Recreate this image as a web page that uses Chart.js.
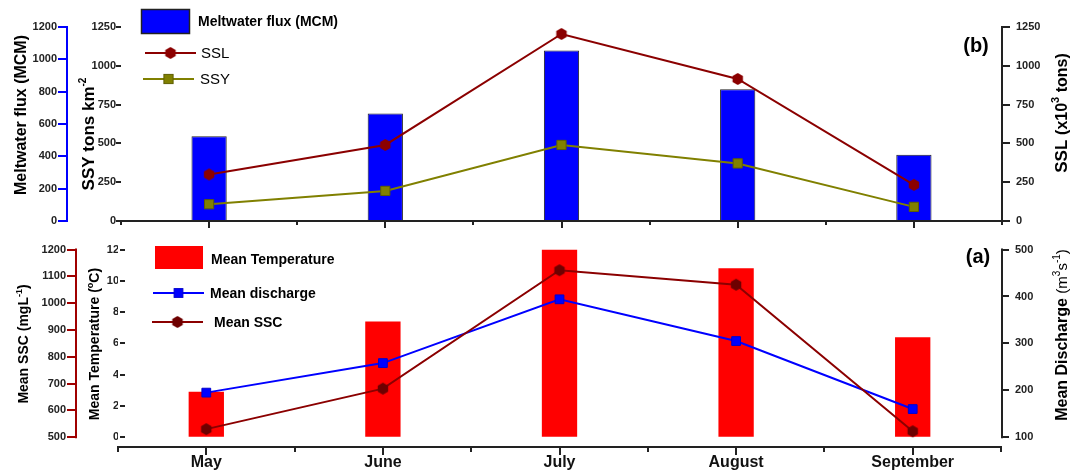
<!DOCTYPE html>
<html>
<head>
<meta charset="utf-8">
<script src="https://cdn.jsdelivr.net/npm/chart.js@4.4.1/dist/chart.umd.min.js"></script>
<style>
  html, body { margin: 0; padding: 0; background: #fff; }
  #wrap { width: 1072px; height: 474px; position: relative; overflow: hidden; }
  .panel { position: absolute; left: 0; width: 1072px; height: 237px; }
  canvas { display: block; }
</style>
</head>
<body>
<div id="wrap">
  <div class="panel" style="top:0"><canvas id="cTop" width="1072" height="237"></canvas></div>
  <div class="panel" style="top:237px"><canvas id="cBot" width="1072" height="237"></canvas></div>
</div>
<script>
// ---- data ----
const months = ['May', 'June', 'July', 'August', 'September'];

// panel (b)
const meltwaterFlux = [525, 665, 1055, 815, 410];   // MCM
const ssl = [300, 490, 1205, 915, 233];             // x10^3 tons
const ssy = [108, 194, 490, 371, 91];               // tons km^-2

// panel (a)
const meanTemperature = [2.9, 7.4, 12.0, 10.8, 6.4]; // deg C
const meanDischarge = [195, 258, 394, 305, 160];     // m^3 s^-1
const meanSSC = [530, 681, 1123, 1069, 522];         // mg L^-1

// axis ticks
const meltTicks = [0, 200, 400, 600, 800, 1000, 1200];
const ssyTicks = [0, 250, 500, 750, 1000, 1250];
const sslTicks = [0, 250, 500, 750, 1000, 1250];
const sscTicks = [500, 600, 700, 800, 900, 1000, 1100, 1200];
const tempTicks = [0, 2, 4, 6, 8, 10, 12];
const dischargeTicks = [100, 200, 300, 400, 500];

// ---- helpers ----
const FONT = 'Arial, "Liberation Sans", sans-serif';
const DARK_RED = '#8B0000';
const SSC_AXIS = '#A00000';
const OLIVE = '#808000';

function hexMarker(r, fill) {
  const s = Math.ceil(2 * r + 2);
  const c = document.createElement('canvas');
  c.width = s; c.height = s;
  const g = c.getContext('2d');
  g.beginPath();
  for (let i = 0; i < 6; i++) {
    const a = Math.PI / 2 + i * Math.PI / 3;
    const x = s / 2 + r * Math.cos(a), y = s / 2 + r * Math.sin(a);
    i ? g.lineTo(x, y) : g.moveTo(x, y);
  }
  g.closePath();
  g.fillStyle = fill;
  g.fill();
  return c;
}
const hexSSL = hexMarker(6, DARK_RED);
const hexSSC = hexMarker(6, '#6E0000');

const fixedTicks = arr => scale => { scale.ticks = arr.map(v => ({ value: v })); };
const plainLabel = v => String(v);
const fixWidth = w => scale => { scale.width = w; };
const fixHeight = h => scale => { scale.height = h; };

function fontOf(p) {
  return (p.b ? 'bold ' : '') + p.s + 'px ' + FONT;
}

// text made of runs (bold / superscript), optionally rotated, centred on (cx, cy)
function drawRich(ctx, cx, cy, parts, angle) {
  ctx.save();
  ctx.translate(cx, cy);
  if (angle) ctx.rotate(angle);
  ctx.fillStyle = '#000';
  ctx.textBaseline = 'alphabetic';
  ctx.textAlign = 'left';
  const widths = parts.map(p => { ctx.font = fontOf(p); return ctx.measureText(p.t).width; });
  const total = widths.reduce((a, b) => a + b, 0);
  const main = parts[0].s;
  let x = -total / 2;
  parts.forEach((p, i) => {
    ctx.font = fontOf(p);
    const y = main * 0.36 + (p.sup ? -main * 0.45 : 0);
    ctx.fillText(p.t, x, y);
    x += widths[i];
  });
  ctx.restore();
}

// axis titles and panel letters
const titlesPlugin = {
  id: 'richTitles',
  afterDraw(chart, args, opts) {
    const ctx = chart.ctx;
    (opts.items || []).forEach(it => drawRich(ctx, it.x, it.y, it.parts, it.vertical ? -Math.PI / 2 : 0));
  }
};

// extra tick marks: intermediate ticks between majors, or ticks set inside the plot edge
const tickMarksPlugin = {
  id: 'tickMarks',
  afterDraw(chart, args, opts) {
    const ctx = chart.ctx;
    ctx.save();
    ctx.lineWidth = 2;
    (opts.axes || []).forEach(a => {
      const s = chart.scales[a.id];
      ctx.strokeStyle = a.color;
      ctx.beginPath();
      if (s.isHorizontal()) {
        const step = s.getPixelForTick(1) - s.getPixelForTick(0);
        const y = s.top;
        for (let i = 0; i <= s.ticks.length; i++) {
          const x = Math.round(s.getPixelForTick(0) + (i - 0.5) * step);
          ctx.moveTo(x, y);
          ctx.lineTo(x, y + a.len);
        }
      } else {
        const marks = [];
        if (a.at) {
          for (let k = 0; k < a.at.length; k++) marks.push(a.at[k]);
        } else {
          for (let k = 0; k < a.majors.length - 1; k++) marks.push((a.majors[k] + a.majors[k + 1]) / 2);
        }
        for (let k = 0; k < marks.length; k++) {
          const y = Math.round(s.getPixelForValue(marks[k]));
          if (a.inside) {
            const x0 = s.right + a.inside;
            ctx.moveTo(x0, y); ctx.lineTo(x0 + a.len, y);
          } else if (s.position === 'left') {
            ctx.moveTo(s.right, y); ctx.lineTo(s.right - a.len, y);
          } else {
            ctx.moveTo(s.left, y); ctx.lineTo(s.left + a.len, y);
          }
        }
      }
      ctx.stroke();
    });
    ctx.restore();
  }
};

// axis spines limited to the labelled value range
const spinePlugin = {
  id: 'spines',
  afterDraw(chart, args, opts) {
    const ctx = chart.ctx;
    ctx.save();
    ctx.lineWidth = 2;
    (opts.axes || []).forEach(a => {
      const s = chart.scales[a.id];
      const x = s.position === 'left' ? s.right - 1 : s.left + 1;
      ctx.strokeStyle = a.color;
      ctx.beginPath();
      ctx.moveTo(x, s.getPixelForValue(a.hi) - 1);
      ctx.lineTo(x, s.getPixelForValue(a.lo) + 1);
      ctx.stroke();
    });
    ctx.restore();
  }
};

// legend entries built from the datasets
const legendPlugin = {
  id: 'panelLegend',
  afterDraw(chart, args, opts) {
    const ctx = chart.ctx;
    ctx.save();
    (opts.items || []).forEach(it => {
      const ds = chart.data.datasets[it.ds];
      if (it.box) {
        const [x, y, w, h] = it.box;
        ctx.fillStyle = ds.backgroundColor;
        ctx.fillRect(x, y, w, h);
        if (ds.borderWidth) {
          ctx.strokeStyle = ds.borderColor;
          ctx.lineWidth = 1.5;
          ctx.strokeRect(x + 0.5, y + 0.5, w - 1, h - 1);
        }
      } else {
        const [x1, x2, y] = it.line;
        ctx.strokeStyle = ds.borderColor;
        ctx.lineWidth = ds.borderWidth;
        ctx.beginPath(); ctx.moveTo(x1, y); ctx.lineTo(x2, y); ctx.stroke();
        const mx = (x1 + x2) / 2;
        if (ds.pointStyle instanceof HTMLCanvasElement) {
          const img = ds.pointStyle;
          ctx.drawImage(img, mx - img.width / 2, y - img.height / 2);
        } else {
          const h = Math.SQRT1_2 * ds.pointRadius;
          ctx.fillStyle = ds.pointBackgroundColor;
          ctx.fillRect(mx - h, y - h, 2 * h, 2 * h);
          ctx.strokeStyle = ds.pointBorderColor;
          ctx.lineWidth = ds.pointBorderWidth;
          ctx.strokeRect(mx - h, y - h, 2 * h, 2 * h);
        }
      }
      ctx.fillStyle = '#000';
      ctx.font = (it.bold ? 'bold ' : '') + it.size + 'px ' + FONT;
      ctx.textBaseline = 'middle';
      ctx.textAlign = 'left';
      ctx.fillText(ds.label, it.tx, it.ty);
    });
    ctx.restore();
  }
};

const tickFont = { family: FONT, size: 11, weight: 'bold' };

// ---- panel (b): meltwater flux, SSL, SSY ----
new Chart(document.getElementById('cTop'), {
  type: 'bar',
  data: {
    labels: months,
    datasets: [
      { type: 'line', label: 'SSL', data: ssl, yAxisID: 'ySSL', borderColor: DARK_RED, borderWidth: 2,
        pointStyle: hexSSL, pointRadius: 6, tension: 0, order: 1 },
      { type: 'line', label: 'SSY', data: ssy, yAxisID: 'ySSY', borderColor: OLIVE, borderWidth: 2,
        pointStyle: 'rect', pointRadius: 6.5, pointBackgroundColor: OLIVE, pointBorderColor: '#5e5e00',
        pointBorderWidth: 1, tension: 0, order: 2 },
      { type: 'bar', label: 'Meltwater flux (MCM)', data: meltwaterFlux, yAxisID: 'yMelt',
        backgroundColor: '#0000FF', borderColor: '#222', borderWidth: 1,
        barPercentage: 0.2, categoryPercentage: 1, order: 3 }
    ]
  },
  options: {
    responsive: false, animation: false, devicePixelRatio: 1,
    layout: { padding: { top: 27, bottom: 0, left: 0, right: 0 } },
    plugins: {
      legend: { display: false }, tooltip: { enabled: false },
      panelLegend: { items: [
        { ds: 2, box: [141, 9, 49, 25], tx: 198, ty: 22, bold: true, size: 14 },
        { ds: 0, line: [145, 196, 53], tx: 201, ty: 54, bold: false, size: 15 },
        { ds: 1, line: [143, 194, 79], tx: 200, ty: 80, bold: false, size: 15 }
      ] },
      richTitles: { items: [
        { x: 20, y: 115, vertical: true, parts: [{ t: 'Meltwater flux (MCM)', b: 1, s: 16 }] },
        { x: 88, y: 134, vertical: true, parts: [{ t: 'SSY tons km', b: 1, s: 17 }, { t: '-2', b: 1, s: 10, sup: 1 }] },
        { x: 1061, y: 113, vertical: true, parts: [{ t: 'SSL ', b: 1, s: 17 }, { t: '(x10', b: 1, s: 16 }, { t: '3', b: 1, s: 11, sup: 1 }, { t: ' tons)', b: 1, s: 16 }] },
        { x: 976, y: 45, parts: [{ t: '(b)', b: 1, s: 20 }] }
      ] },
      tickMarks: { axes: [
        { id: 'x', len: 4, color: '#222' },
        { id: 'yMelt', len: 5, color: '#0000FF', majors: meltTicks },
        { id: 'ySSL', len: 4, color: '#222', majors: sslTicks }
      ] }
    },
    scales: {
      x: {
        type: 'category', offset: true,
        grid: { display: true, drawOnChartArea: false, offset: false, tickLength: 7, color: '#222', lineWidth: 2 },
        border: { display: true, color: '#222', width: 2 },
        ticks: { display: false },
        afterFit: fixHeight(16)
      },
      yMelt: {
        position: 'left', weight: 2, min: 0, max: 1200, bounds: 'data',
        afterBuildTicks: fixedTicks(meltTicks),
        grid: { drawOnChartArea: false, color: '#0000FF', lineWidth: 2, tickLength: 9 },
        border: { display: true, color: '#0000FF', width: 2 },
        ticks: { color: '#222', font: tickFont, padding: 1, callback: plainLabel },
        afterFit: fixWidth(67)
      },
      ySSY: {
        position: 'left', weight: 1, min: 0, max: 1250, bounds: 'data',
        afterBuildTicks: fixedTicks(ssyTicks),
        grid: { drawOnChartArea: false, color: '#222', lineWidth: 2, tickLength: 5 },
        border: { display: false },
        ticks: { color: '#222', font: tickFont, padding: 0, callback: plainLabel },
        afterFit: fixWidth(54)
      },
      ySSL: {
        position: 'right', min: 0, max: 1250, bounds: 'data',
        afterBuildTicks: fixedTicks(sslTicks),
        grid: { drawOnChartArea: false, color: '#222', lineWidth: 2, tickLength: 8 },
        border: { display: true, color: '#222', width: 2 },
        ticks: { color: '#222', font: tickFont, padding: 6, callback: plainLabel },
        afterFit: fixWidth(70)
      }
    }
  },
  plugins: [legendPlugin, titlesPlugin, tickMarksPlugin]
});

// ---- panel (a): temperature, discharge, SSC ----
// the value axes start slightly above the month axis line
const BASE_GAP = 10 / 191;
const lowered = (lo, hi) => lo - (hi - lo) * BASE_GAP;

new Chart(document.getElementById('cBot'), {
  type: 'bar',
  data: {
    labels: months,
    datasets: [
      { type: 'line', label: 'Mean SSC', data: meanSSC, yAxisID: 'ySSC', borderColor: DARK_RED, borderWidth: 2,
        pointStyle: hexSSC, pointRadius: 6, tension: 0, order: 1 },
      { type: 'line', label: 'Mean discharge', data: meanDischarge, yAxisID: 'yQ', borderColor: '#0000FF', borderWidth: 2,
        pointStyle: 'rect', pointRadius: 6.2, pointBackgroundColor: '#0000FF', pointBorderColor: '#0000CC',
        pointBorderWidth: 1, tension: 0, order: 2 },
      { type: 'bar', label: 'Mean Temperature', data: meanTemperature, yAxisID: 'yTemp',
        backgroundColor: '#FF0000', borderWidth: 0,
        barPercentage: 0.2, categoryPercentage: 1, order: 3 }
    ]
  },
  options: {
    responsive: false, animation: false, devicePixelRatio: 1,
    layout: { padding: { top: 9, bottom: 0, left: 0, right: 0 } },
    plugins: {
      legend: { display: false }, tooltip: { enabled: false },
      panelLegend: { items: [
        { ds: 2, box: [155, 9, 48, 23], tx: 211, ty: 23, bold: true, size: 14 },
        { ds: 1, line: [153, 204, 56], tx: 210, ty: 57, bold: true, size: 14 },
        { ds: 0, line: [152, 203, 85], tx: 214, ty: 86, bold: true, size: 14 }
      ] },
      richTitles: { items: [
        { x: 23, y: 107, vertical: true, parts: [{ t: 'Mean SSC (mgL', b: 1, s: 14 }, { t: '-1', b: 1, s: 9, sup: 1 }, { t: ')', b: 1, s: 14 }] },
        { x: 94, y: 107, vertical: true, parts: [{ t: 'Mean Temperature (', b: 1, s: 14 }, { t: 'o', b: 1, s: 9, sup: 1 }, { t: 'C)', b: 1, s: 14 }] },
        { x: 1061, y: 98, vertical: true, parts: [{ t: 'Mean Discharge ', b: 1, s: 16 }, { t: '(m', s: 15 }, { t: '3', s: 10, sup: 1 }, { t: 's', s: 15 }, { t: '-1', s: 10, sup: 1 }, { t: ')', s: 15 }] },
        { x: 978, y: 19, parts: [{ t: '(a)', b: 1, s: 20 }] }
      ] },
      tickMarks: { axes: [
        { id: 'x', len: 5, color: '#222' },
        { id: 'ySSC', len: 5, color: SSC_AXIS, majors: sscTicks },
        { id: 'yQ', len: 4, color: '#222', majors: dischargeTicks },
        { id: 'yTemp', len: 5, color: '#222', at: tempTicks, inside: 2 }
      ] },
      spines: { axes: [
        { id: 'ySSC', lo: 500, hi: 1200, color: SSC_AXIS },
        { id: 'yQ', lo: 100, hi: 500, color: '#222' }
      ] }
    },
    scales: {
      x: {
        type: 'category', offset: true,
        grid: { display: true, drawOnChartArea: false, offset: false, tickLength: 8, color: '#222', lineWidth: 2 },
        border: { display: true, color: '#222', width: 2 },
        ticks: { color: '#111', font: { family: FONT, size: 16, weight: 'bold' }, padding: -2, autoSkip: false, maxRotation: 0 },
        afterFit: fixHeight(27)
      },
      ySSC: {
        position: 'left', weight: 2, min: lowered(500, 1200), max: 1200, bounds: 'data',
        afterBuildTicks: fixedTicks(sscTicks),
        grid: { drawOnChartArea: false, color: SSC_AXIS, lineWidth: 2, tickLength: 10 },
        border: { display: false },
        ticks: { color: '#222', font: tickFont, padding: 1, callback: plainLabel },
        afterFit: fixWidth(77)
      },
      yTemp: {
        position: 'left', weight: 1, min: lowered(0, 12), max: 12, bounds: 'data',
        afterBuildTicks: fixedTicks(tempTicks),
        grid: { drawOnChartArea: false, drawTicks: false },
        border: { display: false },
        ticks: { color: '#222', font: tickFont, padding: -1, callback: plainLabel },
        afterFit: fixWidth(41)
      },
      yQ: {
        position: 'right', min: lowered(100, 500), max: 500, bounds: 'data',
        afterBuildTicks: fixedTicks(dischargeTicks),
        grid: { drawOnChartArea: false, color: '#222', lineWidth: 2, tickLength: 8 },
        border: { display: false },
        ticks: { color: '#222', font: tickFont, padding: 6, callback: plainLabel },
        afterFit: fixWidth(71)
      }
    }
  },
  plugins: [legendPlugin, titlesPlugin, tickMarksPlugin, spinePlugin]
});
</script>
</body>
</html>
